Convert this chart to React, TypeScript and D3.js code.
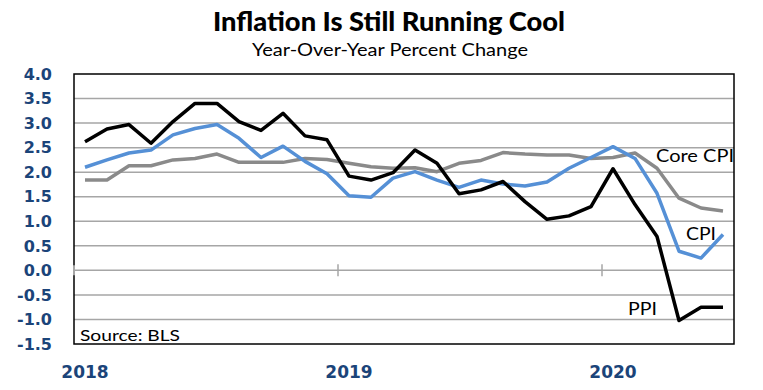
import React from "react";
import * as d3 from "d3";

const months = [
  "2018-01","2018-02","2018-03","2018-04","2018-05","2018-06","2018-07","2018-08","2018-09","2018-10","2018-11","2018-12",
  "2019-01","2019-02","2019-03","2019-04","2019-05","2019-06","2019-07","2019-08","2019-09","2019-10","2019-11","2019-12",
  "2020-01","2020-02","2020-03","2020-04","2020-05","2020-06",
];
const ppi = [2.62, 2.88, 2.97, 2.59, 3.03, 3.4, 3.4, 3.03, 2.85, 3.2, 2.74, 2.66,
  1.92, 1.84, 1.99, 2.45, 2.18, 1.56, 1.64, 1.81, 1.4, 1.04, 1.11, 1.3,
  2.07, 1.34, 0.69, -1.02, -0.75, -0.75];
const cpi = [2.1, 2.25, 2.39, 2.45, 2.76, 2.89, 2.97, 2.69, 2.3, 2.53, 2.22, 1.97,
  1.52, 1.49, 1.88, 2.01, 1.84, 1.69, 1.84, 1.76, 1.72, 1.8, 2.08, 2.3,
  2.52, 2.28, 1.57, 0.39, 0.25, 0.73];
const coreCpi = [1.84, 1.84, 2.13, 2.13, 2.25, 2.28, 2.37, 2.2, 2.2, 2.2, 2.28, 2.26,
  2.18, 2.11, 2.08, 2.09, 2.01, 2.18, 2.24, 2.4, 2.37, 2.35, 2.35, 2.28,
  2.3, 2.39, 2.08, 1.47, 1.27, 1.21];
const yTicks = [4.0, 3.5, 3.0, 2.5, 2.0, 1.5, 1.0, 0.5, 0.0, -0.5, -1.0, -1.5];
const yearLabels = ["2018", "2019", "2020"];
const yearStarts = ["2018-01", "2019-01", "2020-01"];

const title = "Inflation Is Still Running Cool";
const subtitle = "Year-Over-Year Percent Change";
const source = "Source: BLS";

export default function App() {
  const W = 763, H = 390;
  const left = 74, right = 734, top = 74, bottom = 344;
  const x = d3.scaleBand<string>().domain(months).range([left, right]);
  const y = d3.scaleLinear().domain([-1.5, 4]).range([bottom, top]);
  const cx = (m: string) => (x(m) as number) + x.bandwidth() / 2;
  const line = (vals: number[]) =>
    d3.line<number>().x((_, i) => cx(months[i])).y((v) => y(v))(vals) as string;
  const navy = "#1B4479";
  const fontLab = "Lato, 'Open Sans', sans-serif";
  return (
    <div style={{ width: W, height: H, position: "absolute", left: 0, top: 0 }}>
      <svg width={W} height={H} style={{ display: "block" }}>
        <rect width={W} height={H} fill="#fff" />
        <text x={389} y={31} textAnchor="middle" fontFamily={fontLab} fontWeight={900}
          fontSize={27} textLength={352} lengthAdjust="spacingAndGlyphs" fill="#000">{title}</text>
        <text x={390} y={56} textAnchor="middle" fontFamily={fontLab}
          fontSize={18} textLength={276} lengthAdjust="spacingAndGlyphs" fill="#000">{subtitle}</text>
        {yTicks.filter((t) => t > -1.5 && t < 4).map((t) => (
          <line key={t} x1={left} x2={right} y1={y(t)} y2={y(t)} stroke="#A6A6A6" strokeWidth={1.5} />
        ))}
        {yearStarts.slice(1).map((m) => (
          <line key={m} x1={x(m) as number} x2={x(m) as number} y1={y(0) - 6} y2={y(0) + 6}
            stroke="#A6A6A6" strokeWidth={1.5} />
        ))}
        <rect x={left} y={top} width={right - left} height={bottom - top} fill="none" stroke="#000" strokeWidth={1.5} />
        <line x1={left} x2={left} y1={y(0) - 5} y2={y(0) + 5} stroke="#A6A6A6" strokeWidth={2} />
        {yTicks.map((t) => (
          <text key={t} x={52} y={y(t)} dy="0.36em" textAnchor="end" fontFamily="'DejaVu Sans', sans-serif"
            fontWeight={700} fontSize={16} fill={navy}>{t.toFixed(1)}</text>
        ))}
        {yearLabels.map((lab, i) => (
          <text key={lab} x={cx(yearStarts[i])} y={378} textAnchor="middle" fontFamily="'DejaVu Sans', sans-serif"
            fontWeight={700} fontSize={17} fill={navy}>{lab}</text>
        ))}
        <path d={line(coreCpi)} fill="none" stroke="#8A8A8A" strokeWidth={3.5} strokeLinejoin="round" />
        <path d={line(cpi)} fill="none" stroke="#5590D6" strokeWidth={3.5} strokeLinejoin="round" />
        <path d={line(ppi)} fill="none" stroke="#000" strokeWidth={3.5} strokeLinejoin="round" />
        <text x={656} y={162} fontFamily={fontLab} fontSize={18} textLength={78} lengthAdjust="spacingAndGlyphs">Core CPI</text>
        <text x={686} y={240} fontFamily={fontLab} fontSize={18} textLength={30} lengthAdjust="spacingAndGlyphs">CPI</text>
        <text x={628} y={315} fontFamily={fontLab} fontSize={18} textLength={29} lengthAdjust="spacingAndGlyphs">PPI</text>
        <text x={80} y={341} fontFamily={fontLab} fontSize={16} textLength={100} lengthAdjust="spacingAndGlyphs">{source}</text>
      </svg>
    </div>
  );
}
